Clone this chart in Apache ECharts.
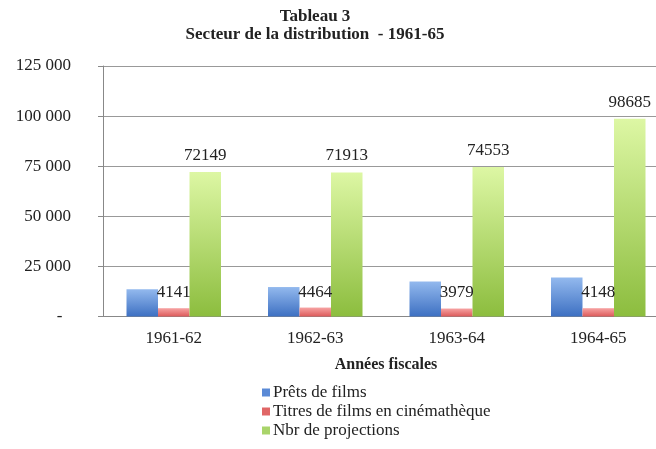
<!DOCTYPE html>
<html>
<head>
<meta charset="utf-8">
<script src="https://cdn.jsdelivr.net/npm/echarts@6/dist/echarts.min.js"></script>
<style>
  html, body { margin: 0; padding: 0; background: #fff; overflow: hidden; }
  /* le graphique original est coupé à droite : canvas plus large que la fenêtre */
  #chart { width: 680px; height: 449px; }
</style>
</head>
<body>
<div id="chart"></div>
<script>
// années fiscales
var categories = ['1961-62', '1962-63', '1963-64', '1964-65'];
var prets = [13600, 14700, 17500, 19400];
// Titres de films en cinémathèque
var titres = [4141, 4464, 3979, 4148];
// Nbr de projections
var projections = [72149, 71913, 74553, 98685];
var yTicks = [0, 25000, 50000, 75000, 100000, 125000];

var serif = '"Liberation Serif", "DejaVu Serif", serif';

function grad(top, bottom) {
  return new echarts.graphic.LinearGradient(0, 0, 0, 1, [
    { offset: 0, color: top },
    { offset: 1, color: bottom }
  ]);
}

function fmt(v) {
  if (v === 0) return '-  ';
  return String(v).replace(/\B(?=(\d{3})+(?!\d))/g, ' ');
}

var chart = echarts.init(document.getElementById('chart'));

var option = {
  animation: false,
  title: {
    text: 'Tableau 3\nSecteur de la distribution  - 1961-65',
    left: 310,
    textAlign: 'center',
    top: 3,
    textStyle: {
      fontFamily: serif,
      fontWeight: 'bold',
      fontSize: 17,
      lineHeight: 18,
      color: '#222'
    }
  },
  legend: {
    orient: 'vertical',
    left: 262,
    top: 384,
    padding: 0,
    itemWidth: 8,
    itemHeight: 8,
    itemGap: 2,
    icon: 'rect',
    textStyle: { fontFamily: serif, fontSize: 17, lineHeight: 17, color: '#222', padding: [0, 0, 0, -2] },
    data: [
      { name: 'Prêts de films', itemStyle: { color: '#5a8ad6' } },
      { name: 'Titres de films en cinémathèque', itemStyle: { color: '#e06666' } },
      { name: 'Nbr de projections', itemStyle: { color: '#a9d46a' } }
    ]
  },
  grid: {
    left: 103,
    top: 66,
    width: 566,
    height: 250.5
  },
  xAxis: {
    type: 'category',
    data: categories,
    name: 'Années fiscales',
    nameLocation: 'middle',
    nameGap: 40,
    nameTextStyle: { fontFamily: serif, fontWeight: 'bold', fontSize: 16, color: '#222' },
    axisLine: { lineStyle: { color: '#888' } },
    axisTick: { length: 6, lineStyle: { color: '#888' } },
    axisLabel: { fontFamily: serif, fontSize: 17, color: '#222', margin: 14 }
  },
  yAxis: {
    type: 'value',
    min: yTicks[0],
    max: yTicks[yTicks.length - 1],
    interval: 25000,
    axisLine: { show: true, lineStyle: { color: '#888' } },
    axisTick: { show: true, length: 5, lineStyle: { color: '#888' } },
    splitLine: { lineStyle: { color: '#999' } },
    axisLabel: { fontFamily: serif, fontSize: 17, color: '#222', margin: 32, formatter: fmt }
  },
  series: [
    {
      name: 'Prêts de films',
      type: 'bar',
      barWidth: 31.5,
      barGap: '0%',
      data: prets,
      itemStyle: { color: grad('#93b9ee', '#3d70c2') }
    },
    {
      name: 'Titres de films en cinémathèque',
      type: 'bar',
      barWidth: 31.5,
      barGap: '0%',
      data: titres,
      itemStyle: { color: grad('#f7a3a3', '#dc5a5a') },
      label: {
        show: true,
        position: 'top',
        distance: 7,
        fontFamily: serif,
        fontSize: 17,
        color: '#222'
      }
    },
    {
      name: 'Nbr de projections',
      type: 'bar',
      barWidth: 31.5,
      barGap: '0%',
      data: projections,
      itemStyle: { color: grad('#ddf7a4', '#8cbd3e') },
      label: {
        show: true,
        position: 'top',
        distance: 8,
        fontFamily: serif,
        fontSize: 17,
        color: '#222'
      }
    }
  ]
};

chart.setOption(option);
</script>
</body>
</html>
